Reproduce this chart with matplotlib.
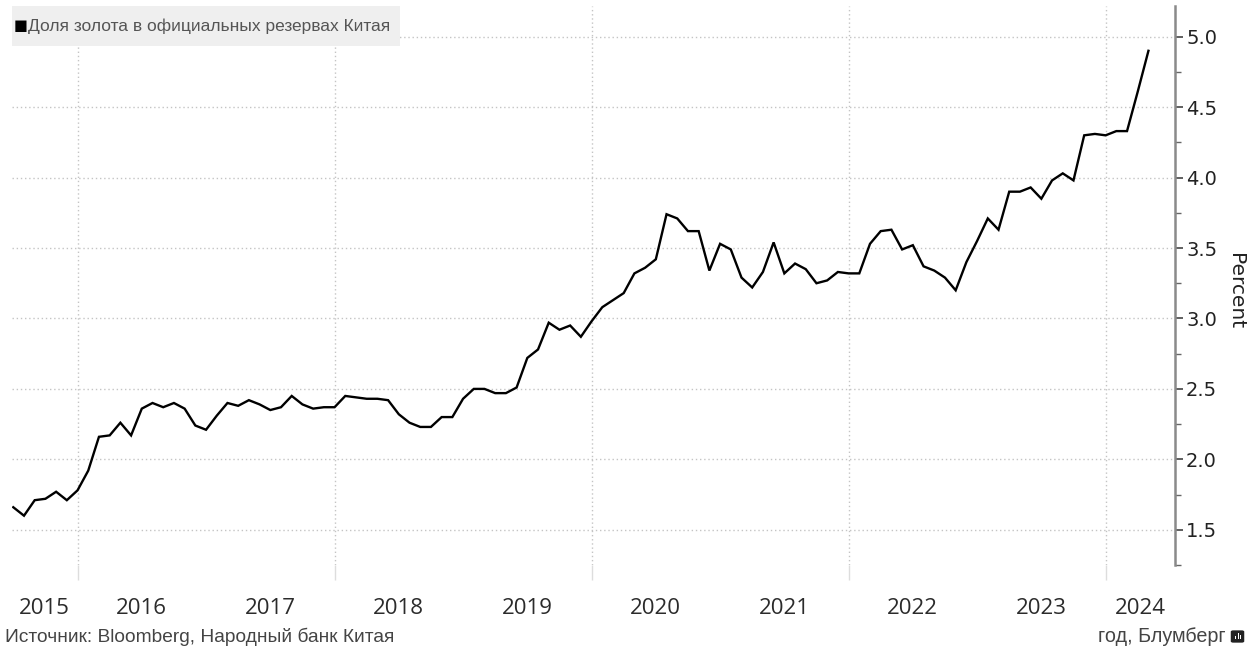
import matplotlib
matplotlib.use("Agg")
import matplotlib.pyplot as plt
import numpy as np
import pandas as pd
from matplotlib.patches import Rectangle, FancyBboxPatch

# share of gold in China's official reserves, %, monthly from Jul 2015
gold_share = [
    # 2015 (Jul-Dec)
    1.66, 1.60, 1.71, 1.72, 1.77, 1.71,
    # 2016
    1.78, 1.92, 2.16, 2.17, 2.26, 2.17, 2.36, 2.40, 2.37, 2.40, 2.36, 2.24,
    # 2017
    2.21, 2.31, 2.40, 2.38, 2.42, 2.39, 2.35, 2.37, 2.45, 2.39, 2.36, 2.37,
    # 2018
    2.37, 2.45, 2.44, 2.43, 2.43, 2.42, 2.32, 2.26, 2.23, 2.23, 2.30, 2.30,
    # 2019
    2.43, 2.50, 2.50, 2.47, 2.47, 2.51, 2.72, 2.78, 2.97, 2.92, 2.95, 2.87,
    # 2020
    2.98, 3.08, 3.13, 3.18, 3.32, 3.36, 3.42, 3.74, 3.71, 3.62, 3.62, 3.34,
    # 2021
    3.53, 3.49, 3.29, 3.22, 3.33, 3.54, 3.32, 3.39, 3.35, 3.25, 3.27, 3.33,
    # 2022
    3.32, 3.32, 3.53, 3.62, 3.63, 3.49, 3.52, 3.37, 3.34, 3.29, 3.20, 3.40,
    # 2023
    3.55, 3.71, 3.63, 3.90, 3.90, 3.93, 3.85, 3.98, 4.03, 3.98, 4.30, 4.31,
    # 2024
    4.30, 4.33, 4.33, 4.61, 4.90,
]
start_month = "2015-07-01"

year_labels = ["2015", "2016", "2017", "2018", "2019", "2020", "2021", "2022", "2023", "2024"]
grid_years = [2016, 2018, 2020, 2022, 2024]
y_ticks = [1.5, 2.0, 2.5, 3.0, 3.5, 4.0, 4.5, 5.0]

legend_label = "Доля золота в официальных резервах Китая"
source_text = "Источник: Bloomberg, Народный банк Китая"
brand_text = "год, Блумберг"

dates = pd.date_range(start_month, periods=len(gold_share), freq="MS")
x = dates.year + (dates.month - 1) / 12.0

W, H = 1248, 650
x_left, x_right = 2015.49, 2024.54

fig = plt.figure(figsize=(W / 100, H / 100), dpi=100)
ax = fig.add_axes([12 / W, 1 - 565 / H, (1175 - 12) / W, (565 - 6) / H])

ax.plot(x, gold_share, color="black", lw=1.7, solid_joinstyle="miter", zorder=3)

ax.set_xlim(x_left, x_right)
ax.set_ylim(1.296, 5.218)

for side in ["top", "left", "bottom"]:
    ax.spines[side].set_visible(False)
ax.spines["right"].set_color("#8a8a8a")
ax.spines["right"].set_linewidth(1.8)

# y axis on the right
ax.yaxis.tick_right()
ax.yaxis.set_label_position("right")
ax.set_yticks(y_ticks)
ax.set_yticklabels([f"{v:.1f}" for v in y_ticks])
ax.set_yticks(np.arange(1.25, 5.2, 0.5), minor=True)
ax.tick_params(axis="y", which="major", length=6, width=1.2, color="#444444",
               labelsize=14, pad=2, labelcolor="#222222")
ax.tick_params(axis="y", which="minor", length=4, width=1.0, color="#666666")
ax.set_ylabel("Percent", rotation=270, fontsize=14.5, color="#222222", va="center", ha="center")
ax.yaxis.set_label_coords(1.052, 0.49)

# x axis: gridlines every two years, labels centred in each year
ax.set_xticks(grid_years)
ax.set_xticklabels([])
label_pos = []
for lab in year_labels:
    yr = int(lab)
    lo = max(yr, x_left)
    hi = min(yr + 1, x_right)
    label_pos.append((lo + hi) / 2)
ax.set_xticks(label_pos, minor=True)
ax.set_xticklabels(year_labels, minor=True)
ax.tick_params(axis="x", which="major", length=11, width=1, color="#dddddd", direction="out")
ax.tick_params(axis="x", which="minor", length=0, pad=24, labelsize=16, labelcolor="#2b2b2b")
for lbl in ax.get_xticklabels(minor=True):
    lbl.set_fontfamily(["Open Sans", "DejaVu Sans"])

ax.grid(axis="y", which="major", color="#c4c4c4", linestyle=(0, (1, 2)), lw=1)
ax.grid(axis="x", which="major", color="#c4c4c4", linestyle=(0, (1, 2)), lw=1)
ax.set_axisbelow(True)

# legend box
fig.patches.append(Rectangle((12 / W, 1 - 46 / H), (400 - 12) / W, 40 / H,
                             transform=fig.transFigure, facecolor="#efefef",
                             edgecolor="none", zorder=1))
fig.text(14 / W, 1 - 26 / H, "■", fontsize=10.5, color="black", va="center", ha="left",
         family=["DejaVu Sans"])
fig.text(28 / W, 1 - 26 / H, legend_label, fontsize=12.5, color="#555555",
         va="center", ha="left", family=["Liberation Sans", "DejaVu Sans"])

# footer
fig.text(5 / W, 1 - 637 / H, source_text, fontsize=13.8, color="#444444",
         va="center", ha="left", family=["Liberation Sans Narrow", "Liberation Sans", "DejaVu Sans"])
fig.text(1226 / W, 1 - 637 / H, brand_text, fontsize=14.2, color="#444444",
         va="center", ha="right", family=["Liberation Sans Narrow", "Liberation Sans", "DejaVu Sans"])

# small bloomberg-like icon
fig.patches.append(FancyBboxPatch((1232 / W, 1 - 642 / H), 11 / W, 11 / H,
                                  boxstyle="round,pad=0.001,rounding_size=0.002",
                                  transform=fig.transFigure, facecolor="#222222",
                                  edgecolor="none", zorder=2))
for bx, bh in [(1235, 3), (1237.5, 6), (1240, 4)]:
    fig.patches.append(Rectangle((bx / W, 1 - 639 / H), 1.4 / W, bh / H,
                                 transform=fig.transFigure, facecolor="white",
                                 edgecolor="none", zorder=3))

fig.savefig("out.png", dpi=100, facecolor="white")
plt.close(fig)
